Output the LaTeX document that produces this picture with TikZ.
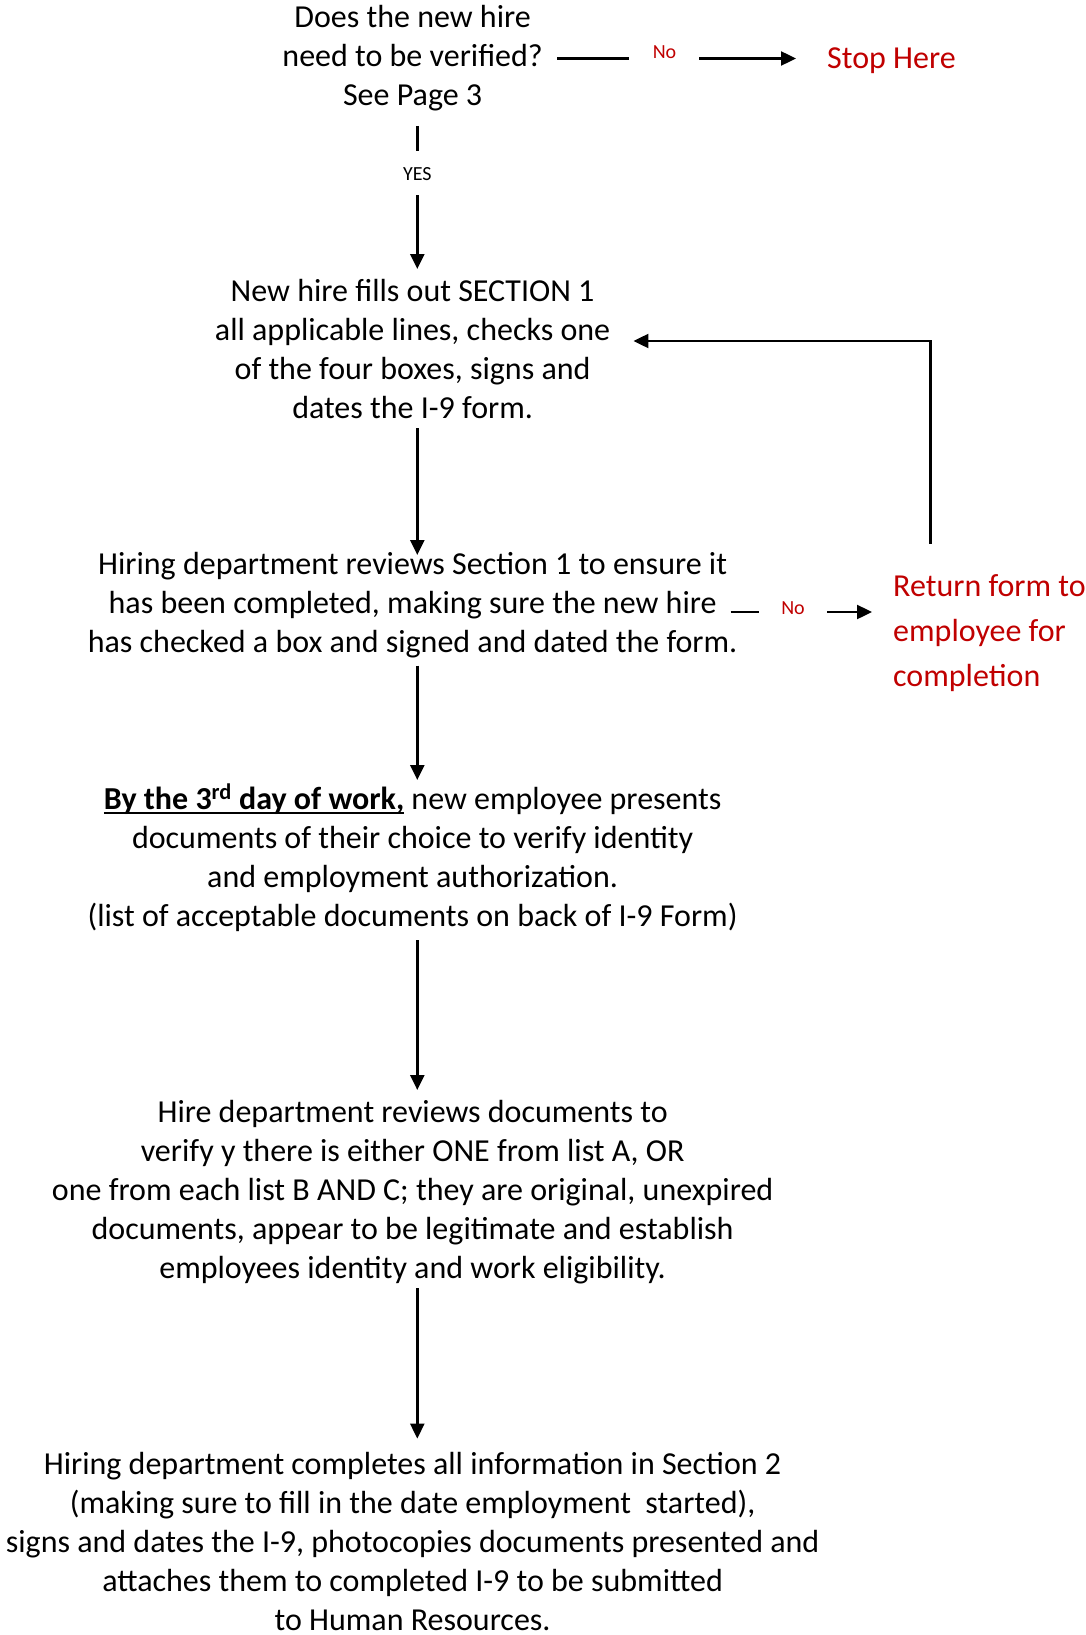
\documentclass[tikz,border=0pt]{standalone}
\usepackage{fontspec}
\setmainfont{Carlito}
\usetikzlibrary{arrows.meta}
\definecolor{wred}{HTML}{C00000}
\newcommand{\myul}[1]{\setbox0\hbox{#1}\rlap{\rule[-4.5pt]{\wd0}{2pt}}\box0\relax}
\begin{document}
\begin{tikzpicture}[x=1pt,y=-1pt,
  txt/.style={inner sep=0pt, align=center, font=\fontsize{32}{39}\selectfont, anchor=base},
  redtxt/.style={inner sep=0pt, text=wred, font=\fontsize{32}{39}\selectfont},
  lbl/.style={inner sep=0pt, font=\fontsize{20}{24}\selectfont},
  ln/.style={line width=2.4pt},
  arr/.style={line width=2.4pt, -{Triangle[length=15pt,width=14pt]}}]
\useasboundingbox (0,0) rectangle (1086,1635);
% nodes (base = baseline of last line)
\node[txt] (q) at (412.6,106) {Does the new hire\\need to be verified?\\See Page 3};
\node[redtxt, anchor=base west] (stop) at (827,69) {Stop Here};
\node[lbl, text=wred, anchor=base] (no1) at (664.5,58.5) {No};
\node[lbl, anchor=base] (yes) at (417.3,180.4) {YES};
\node[txt] (n2) at (412.6,418) {New hire fills out SECTION 1\\all applicable lines, checks one\\of the four boxes, signs and\\dates the I-9 form.};
\node[txt] (n3) at (412.6,652) {Hiring department reviews Section 1 to ensure it\\has been completed, making sure the new hire\\has checked a box and signed and dated the form.};
\node[lbl, text=wred, anchor=mid] (no2) at (793,612) {No};
\node[redtxt, anchor=base west, align=left, font=\fontsize{32}{45}\selectfont] (ret) at (893,686) {Return form to\\employee for\\completion};
\node[txt] (n4) at (412.6,926) {\myul{\textbf{By the 3\textsuperscript{rd} day of work,}} new employee presents\\documents of their choice to verify identity\\and employment authorization.\\(list of acceptable documents on back of I-9 Form)};
\node[txt] (n5) at (412.6,1278) {Hire department reviews documents to\\verify y there is either ONE from list A, OR\\one from each list B AND C; they are original, unexpired\\documents, appear to be legitimate and establish\\employees identity and work eligibility.};
\node[txt] (n6) at (412.6,1630) {Hiring department completes all information in Section 2\\(making sure to fill in the date employment\ \ started),\\signs and dates the I-9, photocopies documents presented and\\attaches them to completed I-9 to be submitted\\to Human Resources.};
% connectors
\draw[ln, shorten <=14.5pt, shorten >=24pt] (q.east |- no1.base) -- (no1.base west);
\draw[arr, shorten <=23pt, shorten >=31pt] (no1.base east) -- (stop.west |- no1.base);
\draw[ln, shorten <=20pt, shorten >=16.5pt] (q.base -| yes.north) -- (yes.north);
\draw[arr, shorten <=14.6pt, shorten >=149pt] (yes.south) -- (n2.base -| yes.south);
\draw[arr, shorten <=10pt, shorten >=97pt] ([xshift=4.7pt]n2.base) -- ([xshift=4.7pt]n3.base);
\draw[arr] ([xshift=37.5pt,yshift=142.5pt]ret.base west) |- ([xshift=23pt,yshift=77pt]n2.base east);
\draw[ln, shorten <=-7pt, shorten >=21.8pt] (n3.east |- no2.mid) -- (no2.mid west);
\draw[arr, shorten <=22.3pt, shorten >=21pt] (no2.mid east) -- (ret.west |- no2.mid);
\draw[arr, shorten <=13.6pt, shorten >=146pt] ([xshift=4.7pt]n3.base) -- ([xshift=4.7pt]n4.base);
\draw[arr, shorten <=14pt, shorten >=188pt] ([xshift=4.7pt]n4.base) -- ([xshift=4.7pt]n5.base);
\draw[arr, shorten <=10pt, shorten >=191.4pt] ([xshift=4.7pt]n5.base) -- ([xshift=4.7pt]n6.base);
\end{tikzpicture}
\end{document}
